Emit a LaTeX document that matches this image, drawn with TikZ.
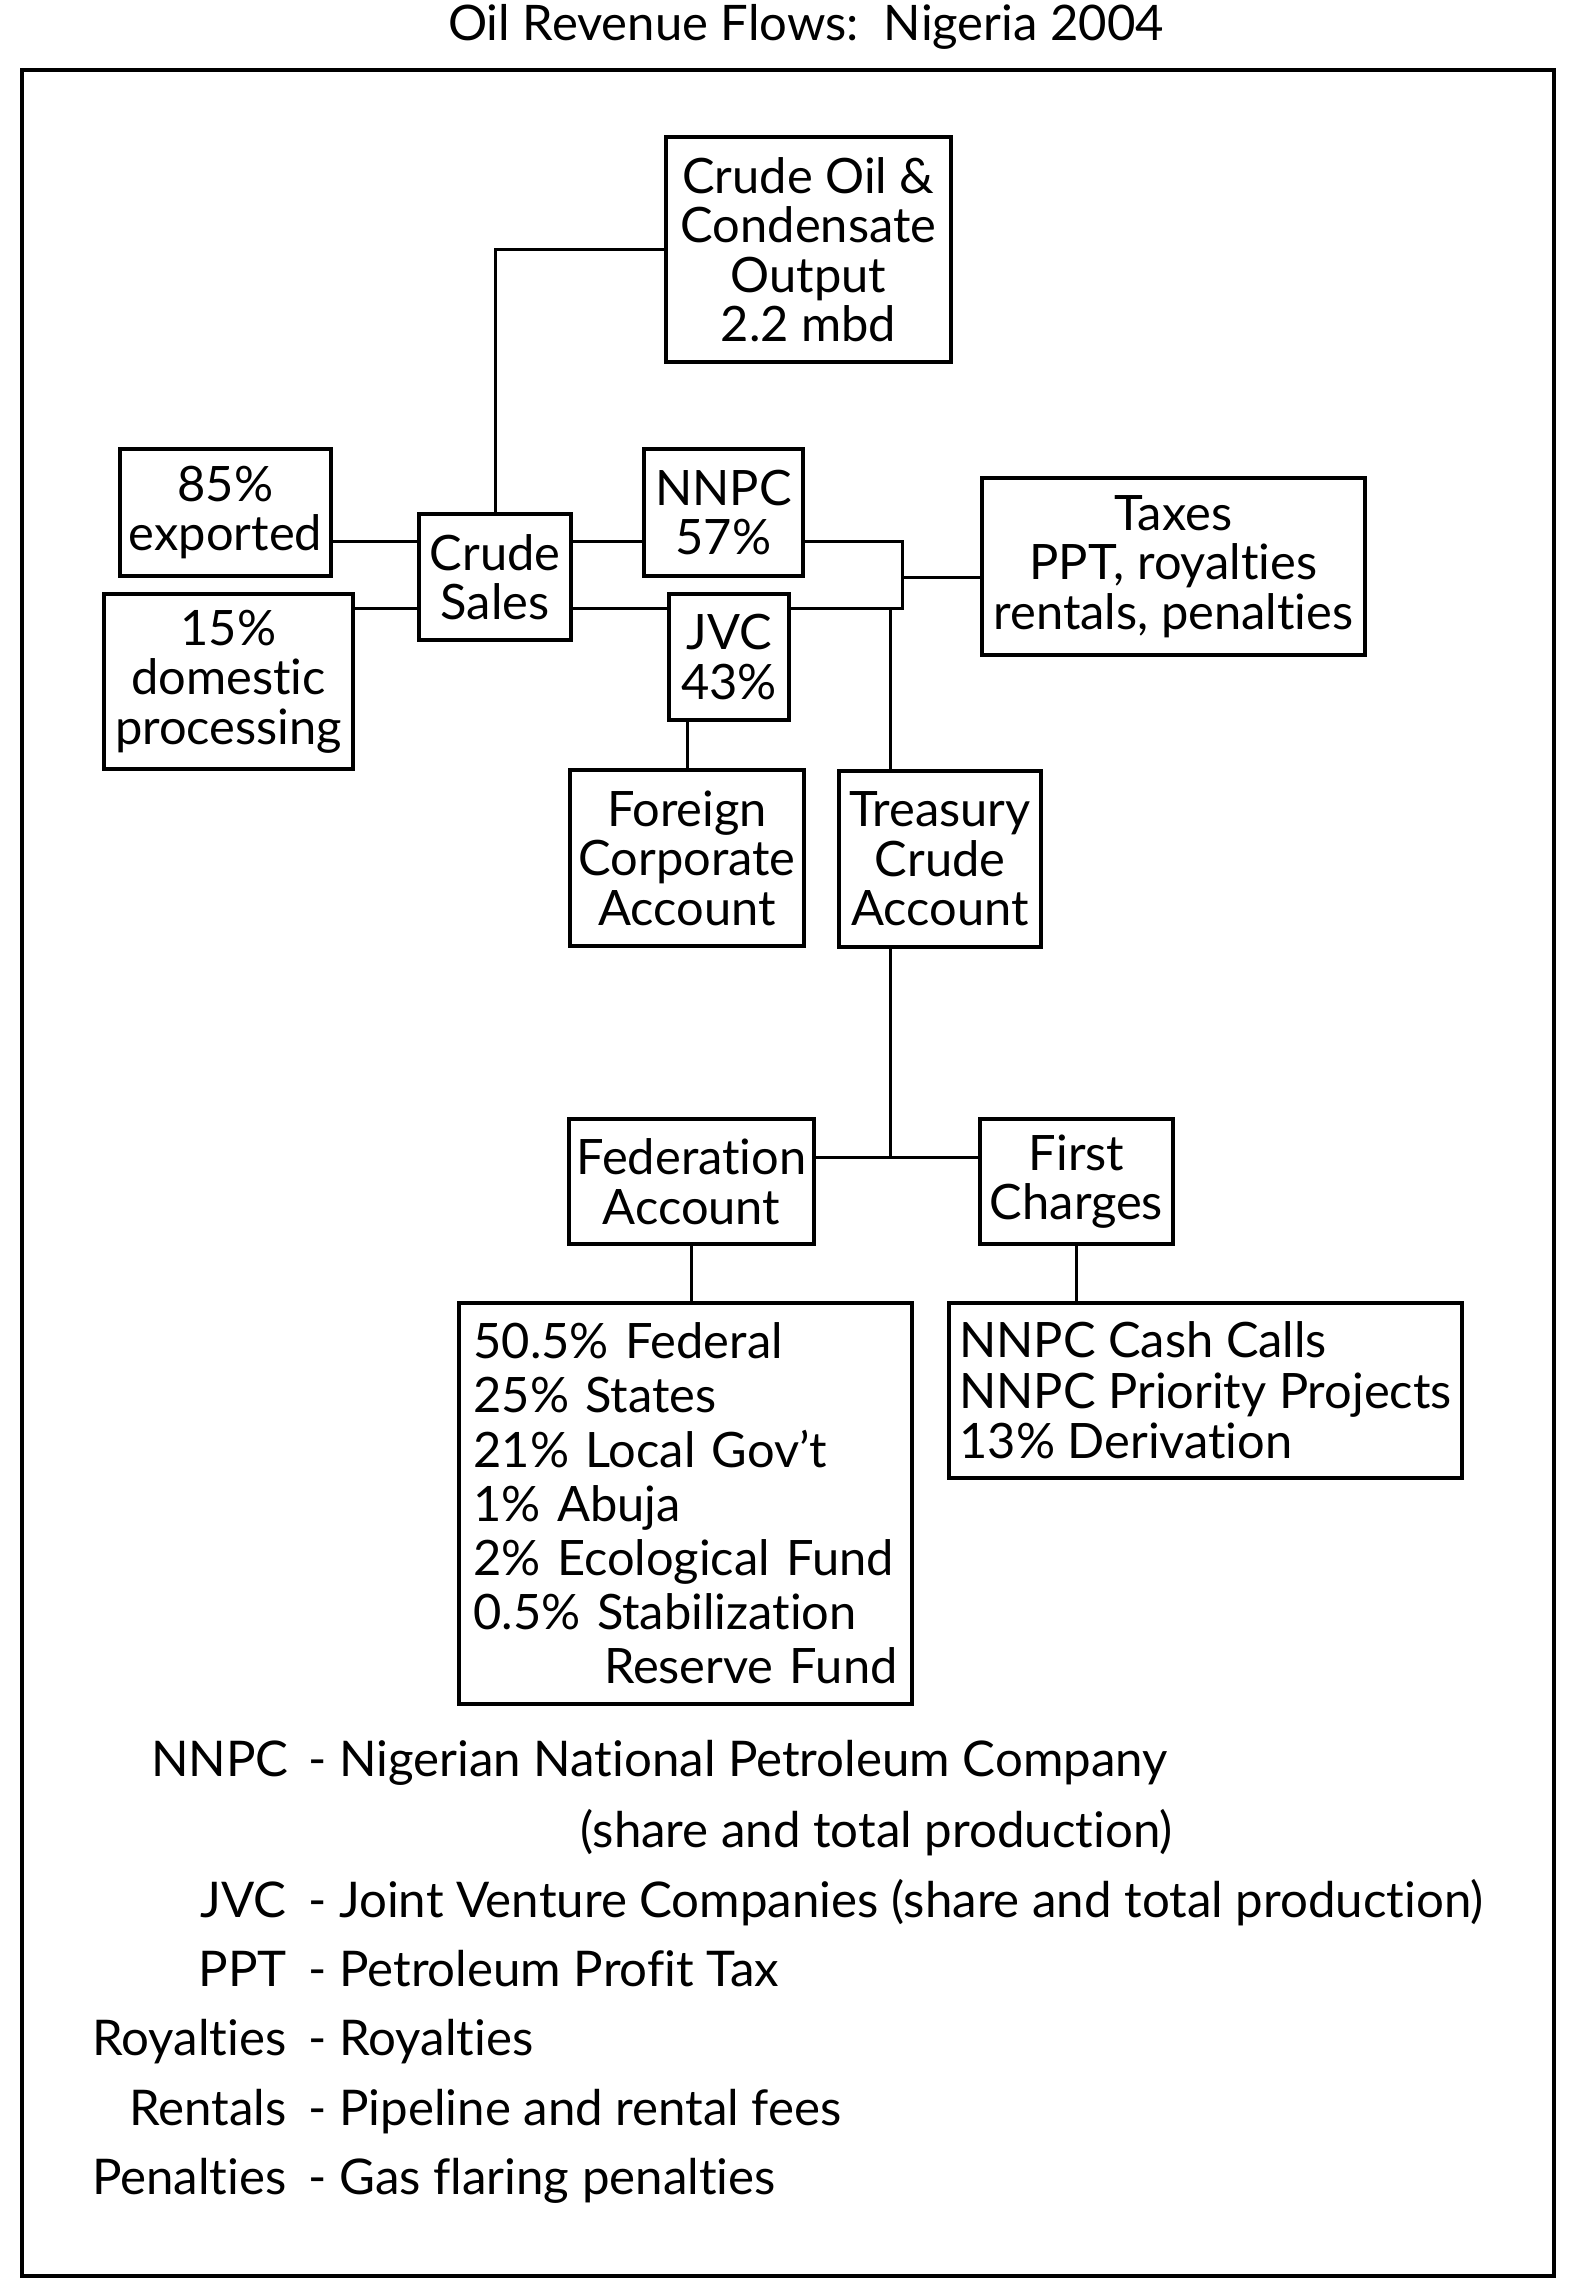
\documentclass[tikz,border=0pt]{standalone}
\usepackage{fontspec}
\setmainfont{Lato}[Ligatures=NoCommon]
\begin{document}
\begin{tikzpicture}[x=0.5pt,y=-0.5pt,
  box/.style={draw,line width=2pt,rectangle,inner sep=0pt,align=center,
    font=\fontsize{24.4pt}{24.75pt}\selectfont},
  conn/.style={line width=1.5pt},
  lgd/.style={inner sep=0pt,font=\fontsize{24.6pt}{28pt}\selectfont}]
\useasboundingbox (0,0) rectangle (1573,2286);
\fill[white] (0,0) rectangle (1573,2286);
\node[inner sep=0pt,anchor=base,font=\fontsize{24.5pt}{26pt}\selectfont] (title) at (806,40) {Oil Revenue Flows:\ \ Nigeria 2004};
\draw[line width=1.75pt] (22,70) rectangle (1554,2276);
% boxes
\node[box,minimum width=142.5pt,minimum height=112.5pt] (crude) at (808.5,249.5) {Crude Oil \&\\Condensate\\Output\\2.2 mbd};
\node[box,minimum width=105.5pt,minimum height=63.5pt] (exported) at (225.5,512.5) {85\%\\exported};
\node[box,minimum width=124.5pt,minimum height=87.5pt] (domestic) at (228.5,681.5) {15\%\\domestic\\processing};
\node[box,minimum width=76pt,minimum height=63pt] (sales) at (495,577) {Crude\\Sales};
\node[box,minimum width=79.5pt,minimum height=63.5pt] (nnpc) at (723.5,512.5) {NNPC\\57\%};
\node[box,minimum width=60pt,minimum height=63pt] (jvc) at (729,657) {JVC\\43\%};
\node[box,minimum width=191.5pt,minimum height=88.5pt] (taxes) at (1173.5,566.5) {Taxes\\PPT, royalties\\rentals, penalties};
\node[box,minimum width=117pt,minimum height=88pt] (foreign) at (687,858) {Foreign\\Corporate\\Account};
\node[box,minimum width=101pt,minimum height=88pt] (treasury) at (940,859) {Treasury\\Crude\\Account};
\node[box,minimum width=122.5pt,minimum height=62.5pt] (federation) at (691.5,1181.5) {Federation\\Account};
\node[box,minimum width=96.5pt,minimum height=62.5pt] (first) at (1076.5,1181.5) {First\\Charges};
\node[box,minimum width=226.5pt,minimum height=200.5pt,align=left,text width=212pt,
  font=\fontsize{24.4pt}{27.1pt}\selectfont] (dist) at (685.5,1503.5)
  {50.5\% Federal\\25\% States\\21\% Local Gov’t\\1\% Abuja\\2\% Ecological Fund\\0.5\% Stabilization\\\hspace*{0pt}\hfill Reserve Fund};
\node[box,minimum width=256.5pt,minimum height=87.5pt,align=left,
  font=\fontsize{24.4pt}{25.25pt}\selectfont] (list) at (1205.5,1390.5)
  {NNPC Cash Calls\\NNPC Priority Projects\\13\% Derivation};
% helper coordinates
\coordinate (r1) at (0,541);
\coordinate (r2) at (0,608);
\coordinate (bx) at (902,0);
\coordinate (tj) at (902,577);
\coordinate (tv) at (890,608);
\coordinate (fj) at (890,1157);
% connectors
\draw[conn] (crude.west) -| (sales.north);
\draw[conn] (exported.east |- r1) -- (sales.west |- r1);
\draw[conn] (domestic.east |- r2) -- (sales.west |- r2);
\draw[conn] (sales.east |- r1) -- (nnpc.west |- r1);
\draw[conn] (sales.east |- r2) -- (jvc.west |- r2);
\draw[conn] (nnpc.east |- r1) -- (bx |- r1) -- (bx |- r2) -- (jvc.east |- r2);
\draw[conn] (tj) -- (taxes.west |- tj);
\draw[conn] (tv) -- (tv |- treasury.north);
\draw[conn] (fj |- treasury.south) -- (fj);
\draw[conn] (federation.east |- fj) -- (first.west |- fj);
\draw[conn] (foreign.north) -- (foreign.north |- jvc.south);
\draw[conn] (federation.south) -- (federation.south |- dist.north);
\draw[conn] (first.south) -- (first.south |- list.north);
% legend
\node[lgd,anchor=base east] (t1) at (289,1776) {NNPC};
\node[lgd,anchor=base west] (d1) at (308,1776) {- Nigerian National Petroleum Company};
\node[lgd,anchor=base east] (d1b) at (1173,1847.5) {(share and total production)};
\node[lgd,anchor=base east] (t2) at (287,1917.7) {JVC};
\node[lgd,anchor=base west] (d2) at (308,1917.7) {- Joint Venture Companies (share and total production)};
\node[lgd,anchor=base east] (t3) at (287,1986.6) {PPT};
\node[lgd,anchor=base west] (d3) at (308,1986.6) {- Petroleum Profit Tax};
\node[lgd,anchor=base east] (t4) at (287,2055.6) {Royalties};
\node[lgd,anchor=base west] (d4) at (308,2055.6) {- Royalties};
\node[lgd,anchor=base east] (t5) at (287,2125) {Rentals};
\node[lgd,anchor=base west] (d5) at (308,2125) {- Pipeline and rental fees};
\node[lgd,anchor=base east] (t6) at (287,2194.7) {Penalties};
\node[lgd,anchor=base west] (d6) at (308,2194.7) {- Gas flaring penalties};
\end{tikzpicture}
\end{document}
